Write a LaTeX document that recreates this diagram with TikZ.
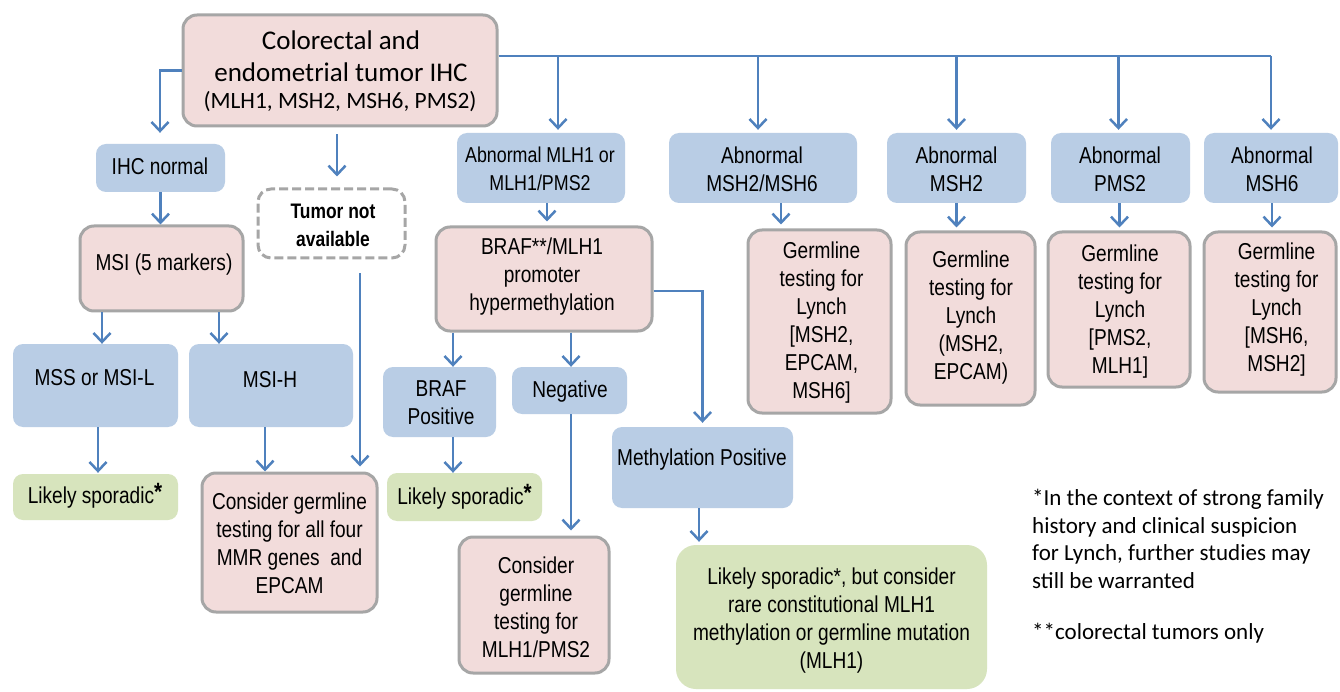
\documentclass[tikz,border=0pt]{standalone}
\usepackage{fontspec}
\setmainfont{Liberation Sans}
\newfontfamily\narrowfont{Liberation Sans}[FakeStretch=0.83]
\newfontfamily\califont{Carlito}
\usetikzlibrary{arrows.meta,fit}
\definecolor{pinkfill}{HTML}{F2DCDB}
\definecolor{edgegray}{HTML}{A6A6A6}
\definecolor{bluefill}{HTML}{B9CDE5}
\definecolor{greenfill}{HTML}{D7E4BD}
\definecolor{arrowblue}{HTML}{4F81BD}
\newcommand{\spstar}{\raisebox{3pt}{\fontsize{25}{25}\selectfont\bfseries *}}
\begin{document}
\begin{tikzpicture}[x=1pt,y=-1pt,
 pinkbox/.style={draw=edgegray,line width=3pt,fill=pinkfill,rounded corners=14pt,inner sep=0pt},
 bluebox/.style={fill=bluefill,rounded corners=10pt,inner sep=0pt},
 greenbox/.style={fill=greenfill,rounded corners=10pt,inner sep=0pt},
 dashbox/.style={draw=edgegray,line width=3pt,dash pattern=on 9pt off 4pt,fill=white,rounded corners=13pt,inner sep=0pt},
 txt/.style={inner sep=0pt,align=center,text=black,font=\narrowfont\fontsize{23}{28}\selectfont},
 notetxt/.style={inner sep=0pt,align=left,anchor=west,text=black,font=\califont\fontsize{23}{27.5}\selectfont},
 arr/.style={draw=arrowblue,line width=2.5pt,-{Straight Barb[length=9pt,width=17pt,line width=2.5pt]}},
 busline/.style={draw=arrowblue,line width=2.5pt}]
\fill[white] (0,0) rectangle (1340,692);
\useasboundingbox (0,0) rectangle (1340,692);
% boxes
\node[pinkbox,fit={(183,15) (497,126)}] (top) {};
\node[bluebox,fit={(96,144) (225,192)}] (ihcn) {};
\node[pinkbox,fit={(80,226) (243,311)}] (msi) {};
\node[dashbox,fit={(258,189) (405,258)}] (tumor) {};
\node[bluebox,fit={(13,344) (178,427)}] (mss) {};
\node[bluebox,fit={(189,344) (353,427)}] (msih) {};
\node[greenbox,fit={(13,474) (178,520)}] (spor1) {};
\node[pinkbox,fit={(202,473) (377,612)}] (cons1) {};
\node[bluebox,fit={(457,133) (625,203)}] (abmlh) {};
\node[pinkbox,fit={(436,227) (652,331)}] (braf) {};
\node[bluebox,fit={(383,367) (496,437)}] (brafpos) {};
\node[bluebox,fit={(512,367) (627,414)}] (neg) {};
\node[greenbox,fit={(387,473) (542,521)}] (spor2) {};
\node[pinkbox,fit={(459,537) (609,673)}] (cons2) {};
\node[bluebox,fit={(612,427) (793,508)}] (methpos) {};
\node[greenbox,rounded corners=20pt,fit={(676,545) (987,689)}] (spor3) {};
\node[bluebox,fit={(669,133) (857,203)}] (ab26) {};
\node[bluebox,fit={(887,133) (1026,203)}] (ab2) {};
\node[bluebox,fit={(1051,133) (1190,203)}] (abp) {};
\node[bluebox,fit={(1204,133) (1338,203)}] (ab6) {};
\node[pinkbox,fit={(748,230) (891,413)}] (g1) {};
\node[pinkbox,fit={(906,232) (1035,405)}] (g2) {};
\node[pinkbox,fit={(1048,232) (1190,387)}] (g3) {};
\node[pinkbox,fit={(1204,232) (1336,392)}] (g4) {};
% texts
\node[txt,font=\califont\fontsize{27}{32}\selectfont] (toptxt) at (341,56) {Colorectal and\\endometrial tumor IHC};
\node[txt,font=\califont\fontsize{23.4}{28}\selectfont] (toptxtb) at (340,102) {(MLH1, MSH2, MSH6, PMS2)};
\node[txt] (ihcntxt) at (160,166) {IHC normal};
\node[txt] (msitxt) at (164,265) {MSI (5 markers)};
\node[txt,font=\narrowfont\bfseries\fontsize{21}{28}\selectfont] (tumortxt) at (333,225) {Tumor not\\available};
\node[txt] (msstxt) at (94.5,378) {MSS or MSI-L};
\node[txt] (msihtxt) at (270,380) {MSI-H};
\node[txt] (spor1txt) at (95,496) {Likely sporadic\spstar};
\node[txt] (cons1txt) at (289.5,543) {Consider germline\\testing for all four\\MMR genes\ \ and\\EPCAM};
\node[txt,font=\narrowfont\fontsize{21.5}{28}\selectfont] (abmlhtxt) at (540,169) {Abnormal MLH1 or\\MLH1/PMS2};
\node[txt] (braftxt) at (542,276.5) {BRAF**/MLH1\\promoter\\hypermethylation};
\node[txt] (brafpostxt) at (441,402.5) {BRAF\\Positive};
\node[txt] (negtxt) at (570,392) {Negative};
\node[txt] (spor2txt) at (464.5,497) {Likely sporadic\spstar};
\node[txt] (cons2txt) at (536,607.5) {Consider\\germline\\testing for\\MLH1/PMS2};
\node[txt] (methpostxt) at (702,460) {Methylation Positive};
\node[txt] (spor3txt) at (831.5,621) {Likely sporadic*, but consider\\rare constitutional MLH1\\methylation or germline mutation\\(MLH1)};
\node[txt] (ab26txt) at (762,169) {Abnormal\\MSH2/MSH6};
\node[txt] (ab2txt) at (956.5,169) {Abnormal\\MSH2};
\node[txt] (abptxt) at (1120,169) {Abnormal\\PMS2};
\node[txt] (ab6txt) at (1272,169) {Abnormal\\MSH6};
\node[txt] (g1txt) at (821.5,322.5) {Germline\\testing for\\Lynch\\{[}MSH2,\\EPCAM,\\MSH6]};
\node[txt] (g2txt) at (971,318) {Germline\\testing for\\Lynch\\(MSH2,\\EPCAM)};
\node[txt] (g3txt) at (1120,311.5) {Germline\\testing for\\Lynch\\{[}PMS2,\\MLH1]};
\node[txt] (g4txt) at (1276.5,309.5) {Germline\\testing for\\Lynch\\{[}MSH6,\\MSH2]};
\node[notetxt] (note1) at (1032,539) {*In the context of strong family\\history and clinical suspicion\\for Lynch, further studies may\\still be warranted};
\node[notetxt] (note2) at (1032,633) {**colorectal tumors only};
% connectors
\coordinate (busy) at (0,56);
\draw[arr,shorten >=11pt] (top.west) -| ([xshift=-0.5pt]ihcn.north);
\draw[arr,shorten <=7pt,shorten >=11pt] ([xshift=-3pt]top.south) -- ([xshift=-3pt]top.south |- tumor.north);
\draw[arr] (ihcn.south) -- (ihcn.south |- msi.north);
\draw[arr] ([xshift=-59.5pt]msi.south) -- ([xshift=-59.5pt]msi.south |- mss.north);
\draw[arr] ([xshift=57.5pt]msi.south) -- ([xshift=57.5pt]msi.south |- msih.north);
\draw[arr,shorten >=1pt] ([xshift=2.5pt]mss.south) -- ([xshift=2.5pt]mss.south |- spor1.north);
\draw[arr] ([xshift=-6pt]msih.south) -- ([xshift=-6pt]msih.south |- cons1.north);
\draw[arr,shorten <=14pt,shorten >=5pt] ([xshift=28.5pt]tumor.south) -- ([xshift=28.5pt]tumor.south |- cons1.north);
\draw[busline] (top.east |- busy) -- (ab6.north |- busy);
\draw[arr,shorten >=3pt] ([xshift=17pt]abmlh.north |- busy) -- ([xshift=17pt]abmlh.north);
\draw[arr,shorten >=3pt] ([xshift=-5pt]ab26.north |- busy) -- ([xshift=-5pt]ab26.north);
\draw[arr,shorten >=3pt] (ab2.north |- busy) -- (ab2.north);
\draw[arr,shorten >=3pt] ([xshift=-2pt]abp.north |- busy) -- ([xshift=-2pt]abp.north);
\draw[arr,shorten >=3pt] (ab6.north |- busy) -- (ab6.north);
\draw[arr,shorten >=4pt] ([xshift=6pt]abmlh.south) -- ([xshift=6pt]abmlh.south |- braf.north);
\draw[arr] ([xshift=-91pt]braf.south) -- ([xshift=-91pt]braf.south |- brafpos.north);
\draw[arr] ([xshift=27pt]braf.south) -- ([xshift=27pt]braf.south |- neg.north);
\draw[arr,shorten >=4pt] ([yshift=-12pt]braf.east) -| (methpos.north);
\draw[arr] ([xshift=13.5pt]brafpos.south) -- ([xshift=13.5pt]brafpos.south |- spor2.north);
\draw[arr,shorten >=5pt] ([xshift=1.5pt]neg.south) -- ([xshift=1.5pt]neg.south |- cons2.north);
\draw[arr,shorten >=3pt] ([xshift=-3.5pt]methpos.south) -- ([xshift=-3.5pt]methpos.south |- spor3.north);
\draw[arr,shorten >=4pt] ([xshift=18pt]ab26.south) -- ([xshift=18pt]ab26.south |- g1.north);
\draw[arr,shorten >=3pt] (ab2.south) -- (ab2.south |- g2.north);
\draw[arr,shorten >=3pt] ([xshift=-1pt]abp.south) -- ([xshift=-1pt]abp.south |- g3.north);
\draw[arr,shorten >=3pt] ([xshift=1pt]ab6.south) -- ([xshift=1pt]ab6.south |- g4.north);
\end{tikzpicture}
\end{document}
